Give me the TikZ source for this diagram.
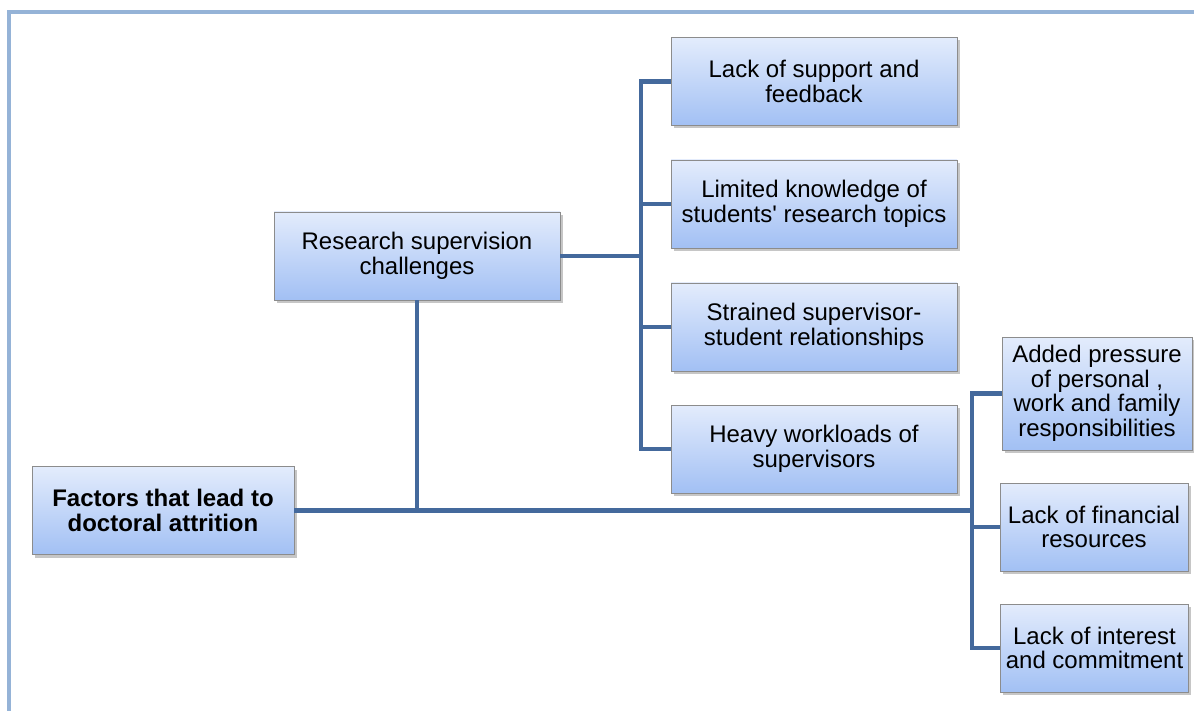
\documentclass[tikz,border=0pt]{standalone}
\usepackage{fontspec}
\setmainfont{Liberation Sans}
\usetikzlibrary{calc,shadows}
\definecolor{BoxTop}{HTML}{E3ECFC}
\definecolor{BoxBottom}{HTML}{A2C0F4}
\definecolor{BoxEdge}{HTML}{8C8C8C}
\definecolor{LinkBlue}{HTML}{44699C}
\definecolor{FrameBlue}{HTML}{95B3D7}

\begin{document}
\begin{tikzpicture}[
    x=1pt, y=-1pt,
    every node/.style={font=\fontsize{24}{24.5}\selectfont},
    box/.style  = {draw=BoxEdge, line width=0.8pt, top color=BoxTop, bottom color=BoxBottom,
                   align=center, inner sep=2pt, minimum height=88pt,
                   drop shadow={shadow xshift=2.5pt, shadow yshift=-3pt, opacity=0.45}},
    wide/.style = {box, minimum width=286pt},
    side/.style = {box, minimum width=188pt},
    link/.style = {LinkBlue, line width=4.5pt},
  ]
\useasboundingbox (0,0) rectangle (1194,711);

% frame
\draw [FrameBlue, line width=4pt] (9,711) -- (9,12.5) -- (1194,12.5);

% boxes
\node [box, minimum width=262pt, font=\fontsize{24}{24.5}\selectfont\bfseries] (root) at (163,510.5)
      {Factors that lead to\\doctoral attrition};
\node [wide] (rsc) at (417,256) {Research supervision\\challenges};

\node [wide] (sup1) at (814,81.5) {Lack of support and\\feedback};
\node [wide] (sup2) at (814,204)  {Limited knowledge of\\students\textquotesingle{} research topics};
\node [wide] (sup3) at (814,327)  {Strained supervisor-\\student relationships};
\node [wide] (sup4) at (814,449)  {Heavy workloads of\\supervisors};

\node [side, minimum width=190pt, minimum height=113pt] (per1) at (1097,393.5)
      {Added pressure\\of personal ,\\work and family\\responsibilities};
\node [side] (per2) at (1094,527) {Lack of financial\\resources};
\node [side] (per3) at (1094.5,648) {Lack of interest\\and commitment};

% bus lines
\coordinate (busL) at (641,0);
\coordinate (busR) at (972,0);
\coordinate (trunk) at (root.east -| busR);

% connectors
\begin{scope}[on background layer/.try]
\draw [link] (root.east) -- (trunk);
\draw [link] (rsc.south) -- (rsc.south |- trunk);
\draw [link] (rsc.east) -- (rsc.east -| busL);
\draw [link] (sup1.west) -| (sup1.west -| busL) -- (sup4.west -| busL) -- (sup4.west);
\draw [link] (sup2.west) -- (sup2.west -| busL);
\draw [link] (sup3.west) -- (sup3.west -| busL);
\draw [link] (per1.west) -- (per1.west -| busR) -- (per3.west -| busR) -- (per3.west);
\draw [link] (per2.west) -- (per2.west -| busR);
\end{scope}

\end{tikzpicture}
\end{document}
